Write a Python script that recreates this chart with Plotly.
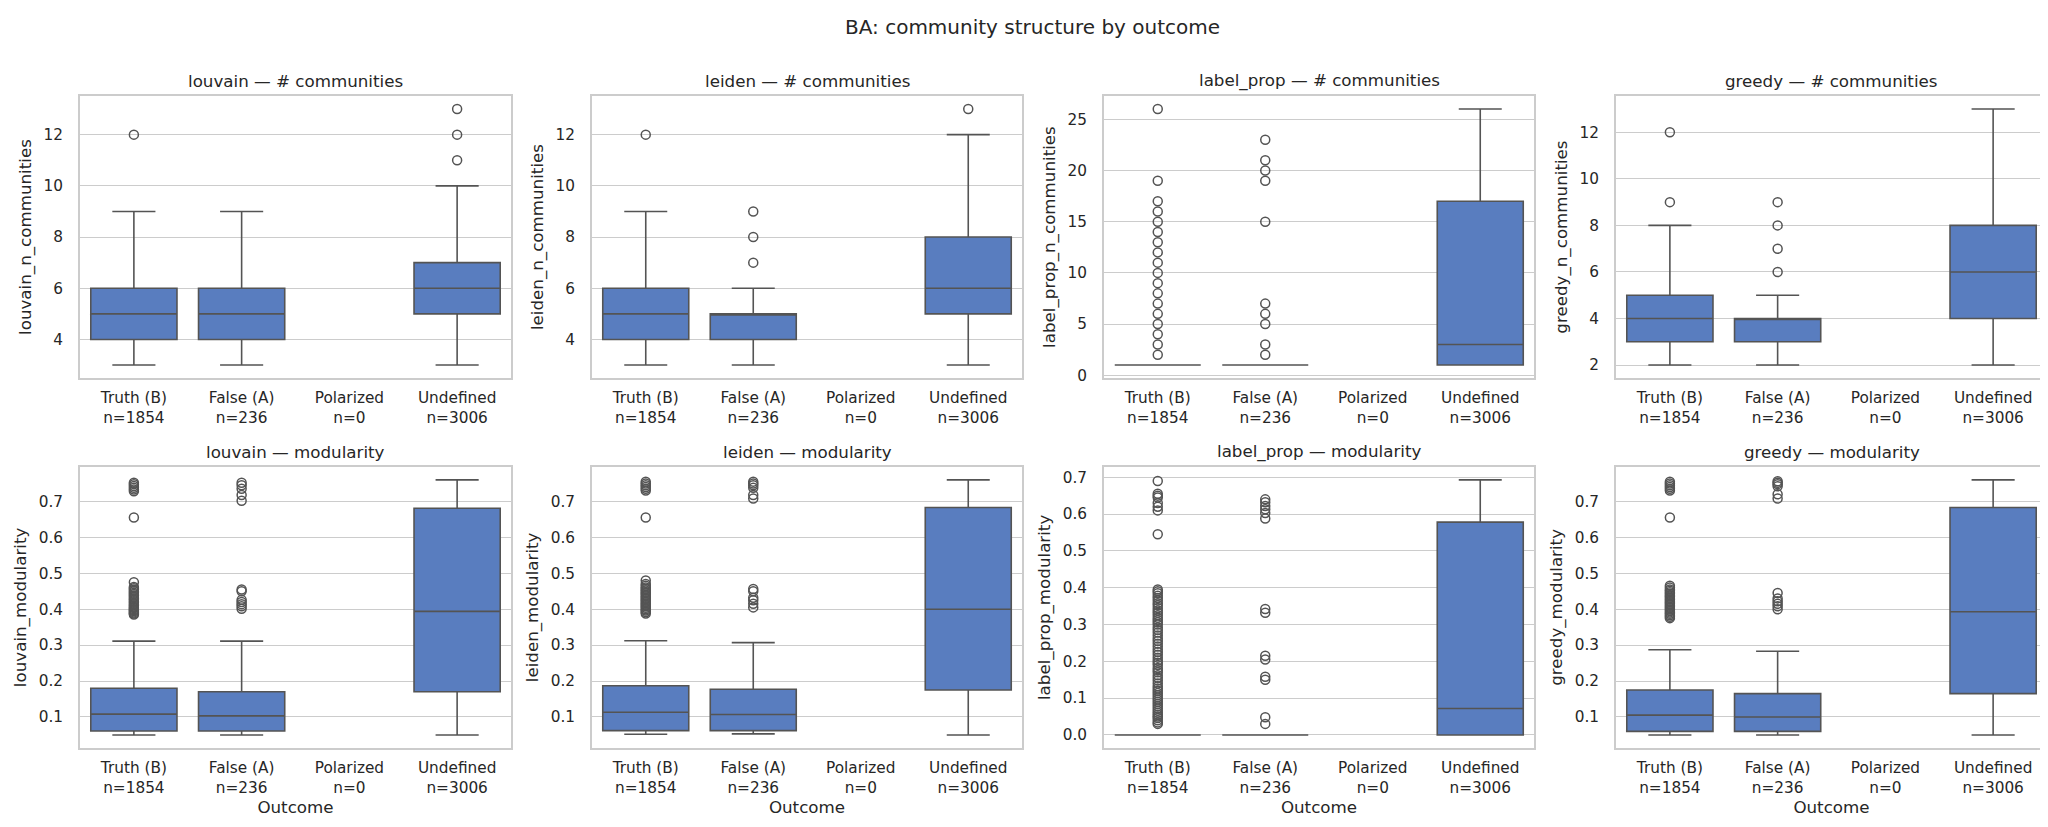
import plotly.graph_objects as go

# ---------------- data ----------------
categories = ["Truth (B)", "False (A)", "Polarized", "Undefined"]
counts = [1854, 236, 0, 3006]
methods = ["louvain", "leiden", "label_prop", "greedy"]

# number of communities: lower whisker, q1, median, q3, upper whisker (None = empty group)
louvain_ncom = dict(low=[3, 3, None, 3], q1=[4, 4, None, 5], med=[5, 5, None, 6], q3=[6, 6, None, 7], high=[9, 9, None, 10])
louvain_ncom_out = [[12], [], [], [11, 12, 13]]

leiden_ncom = dict(low=[3, 3, None, 3], q1=[4, 4, None, 5], med=[5, 5, None, 6], q3=[6, 5, None, 8], high=[9, 6, None, 12])
leiden_ncom_out = [[12], [7, 8, 9], [], [13]]

label_prop_ncom = dict(low=[1, 1, None, 1], q1=[1, 1, None, 1], med=[1, 1, None, 3], q3=[1, 1, None, 17], high=[1, 1, None, 26])
label_prop_ncom_out = [[2, 3, 4, 5, 6, 7, 8, 9, 10, 11, 12, 13, 14, 15, 16, 17, 19, 26],
                       [2, 3, 5, 6, 7, 15, 19, 20, 21, 23], [], []]

greedy_ncom = dict(low=[2, 2, None, 2], q1=[3, 3, None, 4], med=[4, 4, None, 6], q3=[5, 4, None, 8], high=[8, 5, None, 13])
greedy_ncom_out = [[9, 12], [6, 7, 8, 9], [], []]

# modularity
louvain_mod = dict(low=[0.050, 0.050, None, 0.050], q1=[0.061, 0.061, None, 0.170], med=[0.108, 0.103, None, 0.394],
                   q3=[0.180, 0.170, None, 0.681], high=[0.311, 0.311, None, 0.760])
louvain_mod_out = [[0.385, 0.388, 0.391, 0.394, 0.397, 0.400, 0.403, 0.406, 0.410, 0.414, 0.418, 0.422, 0.426,
                    0.430, 0.434, 0.438, 0.442, 0.446, 0.450, 0.454, 0.458, 0.462, 0.475, 0.655,
                    0.728, 0.733, 0.738, 0.743, 0.748, 0.752],
                   [0.401, 0.408, 0.414, 0.420, 0.426, 0.450, 0.455, 0.702, 0.718, 0.735, 0.745, 0.752], [], []]

leiden_mod = dict(low=[0.052, 0.053, None, 0.050], q1=[0.062, 0.062, None, 0.175], med=[0.113, 0.107, None, 0.400],
                  q3=[0.187, 0.177, None, 0.683], high=[0.312, 0.307, None, 0.760])
leiden_mod_out = [[0.388, 0.392, 0.396, 0.400, 0.404, 0.408, 0.412, 0.416, 0.420, 0.424, 0.428, 0.432, 0.436,
                   0.440, 0.444, 0.448, 0.452, 0.456, 0.460, 0.465, 0.470, 0.480, 0.655,
                   0.730, 0.735, 0.740, 0.745, 0.750, 0.755],
                  [0.405, 0.415, 0.425, 0.432, 0.450, 0.456, 0.708, 0.718, 0.738, 0.745, 0.750, 0.755], [], []]

label_prop_mod = dict(low=[0.0, 0.0, None, 0.0], q1=[0.0, 0.0, None, 0.0], med=[0.0, 0.0, None, 0.072],
                      q3=[0.0, 0.0, None, 0.578], high=[0.0, 0.0, None, 0.693])
label_prop_mod_out = [[0.030, 0.034, 0.040, 0.046, 0.050, 0.055, 0.060, 0.066, 0.072, 0.078, 0.084, 0.090, 0.096,
                       0.102, 0.108, 0.114, 0.120, 0.126, 0.132, 0.140, 0.148, 0.155, 0.162, 0.170, 0.176,
                       0.182, 0.190, 0.196, 0.202, 0.210, 0.218, 0.225, 0.232, 0.240, 0.248, 0.255, 0.262,
                       0.270, 0.278, 0.285, 0.292, 0.300, 0.306, 0.312, 0.318, 0.325, 0.332, 0.338, 0.345,
                       0.352, 0.358, 0.365, 0.372, 0.378, 0.385, 0.390, 0.395,
                       0.545, 0.610, 0.620, 0.630, 0.645, 0.650, 0.655, 0.690],
                      [0.030, 0.048, 0.150, 0.158, 0.205, 0.215, 0.332, 0.342, 0.588, 0.603, 0.613, 0.622,
                       0.632, 0.640], [], []]

greedy_mod = dict(low=[0.050, 0.050, None, 0.050], q1=[0.060, 0.060, None, 0.165], med=[0.105, 0.100, None, 0.393],
                  q3=[0.175, 0.165, None, 0.683], high=[0.287, 0.283, None, 0.760])
greedy_mod_out = [[0.375, 0.379, 0.383, 0.387, 0.391, 0.395, 0.399, 0.403, 0.407, 0.411, 0.415, 0.419, 0.423,
                   0.427, 0.431, 0.435, 0.439, 0.443, 0.447, 0.451, 0.455, 0.460, 0.465, 0.655,
                   0.730, 0.735, 0.740, 0.745, 0.750, 0.755],
                  [0.400, 0.408, 0.415, 0.422, 0.430, 0.445, 0.708, 0.720, 0.742, 0.748, 0.752, 0.756], [], []]

panels = [
    ("louvain — # communities", "louvain_n_communities", louvain_ncom, louvain_ncom_out, 2, "d"),
    ("leiden — # communities", "leiden_n_communities", leiden_ncom, leiden_ncom_out, 2, "d"),
    ("label_prop — # communities", "label_prop_n_communities", label_prop_ncom, label_prop_ncom_out, 5, "d"),
    ("greedy — # communities", "greedy_n_communities", greedy_ncom, greedy_ncom_out, 2, "d"),
    ("louvain — modularity", "louvain_modularity", louvain_mod, louvain_mod_out, 0.1, ".1f"),
    ("leiden — modularity", "leiden_modularity", leiden_mod, leiden_mod_out, 0.1, ".1f"),
    ("label_prop — modularity", "label_prop_modularity", label_prop_mod, label_prop_mod_out, 0.1, ".1f"),
    ("greedy — modularity", "greedy_modularity", greedy_mod, greedy_mod_out, 0.1, ".1f"),
]

# ---------------- style ----------------
W, H = 2048, 827
FONT = "DejaVu Sans"
TXT = "#262626"
BOX_FILL = "#597dbf"
LINE = "#545454"
GRID = "#cccccc"

col_px = [(72, 503), (584, 1014), (1096, 1526), (1608, 2039)]
row_px = [(89, 373), (463, 746)]

tick_text = [f"{c}<br>n={n}" for c, n in zip(categories, counts)]
positions = list(range(len(categories)))

fig = go.Figure()
layout = dict(
    width=W, height=H, autosize=False,
    margin=dict(l=0, r=0, t=0, b=0),
    paper_bgcolor="white", plot_bgcolor="white",
    showlegend=False,
    font=dict(family=FONT, color=TXT, size=15),
    boxgap=0.2, boxgroupgap=0,
)
annotations = []

for k, (title, ylab, st, outs, dtick, fmt) in enumerate(panels):
    r, c = divmod(k, 4)
    idx = k + 1
    xa = "x" if idx == 1 else f"x{idx}"
    ya = "y" if idx == 1 else f"y{idx}"
    keep = [i for i in positions if counts[i] > 0]
    fig.add_trace(go.Box(
        x=[positions[i] for i in keep],
        q1=[st["q1"][i] for i in keep],
        median=[st["med"][i] for i in keep],
        q3=[st["q3"][i] for i in keep],
        lowerfence=[st["low"][i] for i in keep],
        upperfence=[st["high"][i] for i in keep],
        width=0.8, whiskerwidth=0.5,
        fillcolor=BOX_FILL, line=dict(color=LINE, width=1.6),
        boxpoints=False, xaxis=xa, yaxis=ya, hoverinfo="skip",
    ))
    ox, oy = [], []
    for i, vals in enumerate(outs):
        ox += [positions[i]] * len(vals)
        oy += vals
    fig.add_trace(go.Scatter(
        x=ox, y=oy, mode="markers", xaxis=xa, yaxis=ya,
        marker=dict(symbol="circle-open", size=9, color=LINE, line=dict(width=1.5, color=LINE)),
        hoverinfo="skip",
    ))

    # data-based y range (5% margins like matplotlib)
    allv = [v for key in ("low", "high") for v in st[key] if v is not None] + [v for o in outs for v in o]
    lo, hi = min(allv), max(allv)
    pad = (hi - lo) * 0.05

    x0, x1 = col_px[c]
    yt, yb = row_px[r]
    xdom = [x0 / W, x1 / W]
    ydom = [1 - yb / H, 1 - yt / H]

    xkey = "xaxis" if idx == 1 else f"xaxis{idx}"
    ykey = "yaxis" if idx == 1 else f"yaxis{idx}"
    layout[xkey] = dict(
        domain=xdom, anchor=ya, range=[-0.5, len(categories) - 0.5],
        tickmode="array", tickvals=positions, ticktext=tick_text,
        showgrid=False, zeroline=False,
        showline=True, mirror=True, linecolor=GRID, linewidth=1.7,
        ticks="", ticklabelstandoff=5,
        tickfont=dict(family=FONT, size=15.3, color=TXT),
        title=dict(text="Outcome" if r == 1 else "", font=dict(family=FONT, size=16.7, color=TXT), standoff=4),
    )
    layout[ykey] = dict(
        domain=ydom, anchor=xa, range=[lo - pad, hi + pad],
        dtick=dtick, tick0=0, tickformat=fmt,
        showgrid=True, gridcolor=GRID, gridwidth=1.4, zeroline=False,
        showline=True, mirror=True, linecolor=GRID, linewidth=1.7,
        ticks="", ticklabelstandoff=12,
        tickfont=dict(family=FONT, size=15.3, color=TXT),
        title=dict(text=ylab, font=dict(family=FONT, size=16.7, color=TXT), standoff=8),
    )
    annotations.append(dict(
        text=title, x=(xdom[0] + xdom[1]) / 2, y=ydom[1], xref="paper", yref="paper",
        xanchor="center", yanchor="bottom", yshift=3, showarrow=False,
        font=dict(family=FONT, size=16.7, color=TXT),
    ))

annotations.append(dict(
    text="BA: community structure by outcome", x=0.5, y=1, xref="paper", yref="paper",
    xanchor="center", yanchor="top", yshift=-5, showarrow=False,
    font=dict(family=FONT, size=20, color=TXT),
))
layout["annotations"] = annotations
fig.update_layout(**layout)

fig.write_html("out.html")
